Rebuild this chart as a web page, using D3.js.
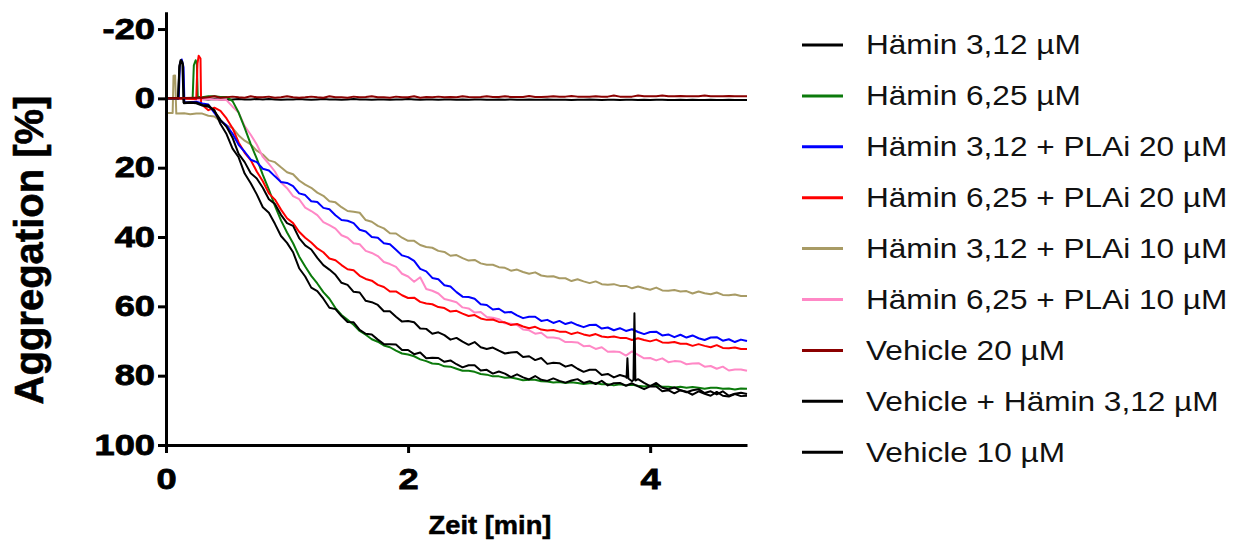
<!DOCTYPE html>
<html>
<head>
<meta charset="utf-8">
<script src="https://cdn.jsdelivr.net/npm/d3@7"></script>
<style>
  html, body { margin: 0; padding: 0; background: #fff; }
  svg { display: block; }
</style>
</head>
<body>
<svg id="chart" width="1249" height="545"></svg>
<script>
// ---- data ---------------------------------------------------------------
// Time grid (min) shared by all traces after the onset phase (0.30 ... 4.80)
const minutes = d3.range(91).map(i => +(0.30 + i * 0.05).toFixed(2));

const xTicks = [0, 2, 4];
const yTicks = [-20, 0, 20, 40, 60, 80, 100];

const seriesLabels = [
  "Hämin 3,12 µM",
  "Hämin 6,25 µM",
  "Hämin 3,12 + PLAi 20 µM",
  "Hämin 6,25 + PLAi 20 µM",
  "Hämin 3,12 + PLAi 10 µM",
  "Hämin 6,25 + PLAi 10 µM",
  "Vehicle 20 µM",
  "Vehicle + Hämin 3,12 µM",
  "Vehicle 10 µM"
];
const seriesColors = ["#000000", "#0b7a0b", "#0000ff", "#ff0000", "#a89b65",
                      "#ff88c6", "#8b0000", "#000000", "#000000"];

// Onset segments [min, %] including the injection artefacts
const onsetHamin312       = [[0, 0], [0.10, 0], [0.11, -9], [0.12, -11], [0.135, -10.5], [0.145, 1.2], [0.2, 1.1], [0.25, 1.2]];
const onsetHamin625       = [[0, 0], [0.22, 0], [0.23, -9.5], [0.245, -11], [0.255, -10], [0.262, -0.5], [0.28, -0.4]];
const onsetHamin312Plai20 = [[0, 0], [0.105, 0], [0.115, -10], [0.13, -11.2], [0.145, -9], [0.152, 1.2], [0.2, 1.1], [0.25, 1.0]];
const onsetHamin625Plai20 = [[0, 0], [0.25, 0.2], [0.26, -10], [0.27, -12.3], [0.285, -11.5], [0.29, 1.6]];
const onsetHamin312Plai10 = [[0, 4.2], [0.055, 4.2], [0.062, -6.5], [0.075, -6.6], [0.085, 4.4], [0.15, 4.3], [0.2, 4.6], [0.25, 4.4]];
const onsetHamin625Plai10 = [[0, 0], [0.2, 0.2], [0.25, 0.3]];
const onsetVehicle20      = [[0, 0], [0.15, -0.1], [0.25, -0.2]];
const onsetVehicleHamin   = [[0, 0], [0.10, 0], [0.112, -9.5], [0.125, -11], [0.14, -9.8], [0.148, 1.4], [0.2, 1.3], [0.25, 1.4]];
const onsetVehicle10      = [[0, 0], [0.15, 0.1], [0.25, 0.2]];

// Electrode artefact on the Hämin 3,12 µM trace
const artefactHamin312 = [[3.805, 80.6], [3.812, 75], [3.82, 80.8], [3.862, 81.2], [3.87, 62], [3.878, 81.4]];

// Aggregation (%) on the shared grid
const hamin312 = [
  1.9, 2.0, 3.7, 6.2, 8.2, 11.4, 16.0, 18.4, 21.6, 23.1,
  25.8, 29.1, 30.5, 33.6, 36.0, 36.8, 40.3, 42.4, 43.6, 46.0,
  48.1, 49.4, 50.9, 53.2, 53.8, 55.8, 56.0, 58.4, 58.8, 59.6,
  61.4, 61.4, 63.0, 64.4, 64.2, 64.6, 66.4, 66.5, 67.9, 67.5,
  68.3, 69.6, 69.1, 70.2, 71.1, 70.3, 71.8, 72.3, 71.9, 72.8,
  73.6, 73.3, 73.2, 74.6, 74.4, 75.5, 74.9, 76.6, 76.3, 76.4,
  77.4, 76.9, 78.0, 78.9, 78.3, 78.3, 79.8, 79.5, 80.5, 79.8,
  80.3, 81.6, 81.0, 82.1, 83.0, 82.1, 83.5, 83.9, 83.4, 84.2,
  84.8, 84.2, 83.9, 85.0, 84.5, 85.4, 84.5, 85.8, 85.2, 84.9,
  85.3
];
const hamin625 = [
  -0.3, -0.6, -0.6, -0.4, -0.4, 0.8, 4.1, 8.5, 13.2, 17.4,
  22.1, 26.3, 31.0, 35.2, 38.7, 41.8, 45.6, 48.5, 51.2, 53.4,
  55.9, 57.8, 60.5, 62.5, 63.9, 65.3, 67.1, 68.2, 69.5, 70.2,
  71.3, 71.8, 72.8, 73.6, 73.9, 74.4, 75.3, 75.8, 76.5, 76.6,
  77.3, 77.4, 78.0, 78.6, 78.6, 78.9, 79.5, 79.7, 80.2, 80.2,
  80.6, 80.5, 80.9, 81.3, 81.2, 81.2, 81.6, 81.7, 82.0, 81.8,
  82.1, 81.9, 82.1, 82.4, 82.2, 82.1, 82.5, 82.5, 82.8, 82.5,
  82.8, 82.6, 82.9, 83.1, 82.9, 82.9, 83.2, 83.2, 83.4, 83.2,
  83.5, 83.3, 83.5, 83.8, 83.5, 83.5, 83.8, 83.7, 84.0, 83.7,
  83.8
];
const hamin312Plai20 = [
  1.5, 1.8, 4.2, 6.4, 7.8, 10.2, 13.4, 15.4, 17.7, 18.4,
  20.3, 20.8, 22.5, 24.1, 24.4, 25.3, 27.4, 27.9, 29.7, 29.9,
  31.6, 32.0, 33.7, 35.1, 35.3, 36.0, 37.9, 38.4, 40.0, 40.2,
  41.8, 42.1, 43.7, 45.3, 45.8, 46.9, 49.2, 49.9, 51.8, 52.2,
  53.9, 54.3, 55.9, 57.2, 57.3, 57.8, 59.4, 59.6, 60.9, 60.7,
  61.8, 61.6, 62.6, 63.4, 63.0, 63.0, 64.2, 63.9, 64.8, 64.2,
  65.1, 64.6, 65.4, 66.0, 65.4, 65.3, 66.4, 66.1, 66.9, 66.3,
  67.1, 66.6, 67.4, 68.0, 67.4, 67.3, 68.4, 68.1, 68.9, 68.2,
  69.0, 68.4, 69.2, 69.7, 69.0, 68.9, 69.9, 69.5, 70.3, 69.6,
  70.0
];
const hamin625Plai20 = [
  1.9, 3.4, 2.7, 3.6, 5.8, 8.6, 12.7, 15.7, 17.8, 21.1,
  23.9, 27.4, 29.2, 32.1, 34.6, 36.0, 38.5, 40.2, 41.6, 43.3,
  44.4, 46.2, 46.7, 48.1, 49.3, 49.6, 51.2, 52.1, 52.6, 53.8,
  54.4, 55.7, 55.7, 56.8, 57.6, 57.5, 58.7, 59.2, 59.4, 60.2,
  60.5, 61.5, 61.3, 62.1, 62.8, 62.5, 63.5, 63.9, 63.8, 64.5,
  64.6, 65.4, 65.1, 65.8, 66.3, 65.9, 66.7, 67.0, 66.8, 67.3,
  67.3, 68.0, 67.5, 68.1, 68.5, 68.0, 68.7, 68.9, 68.7, 69.1,
  69.1, 69.7, 69.2, 69.7, 70.1, 69.6, 70.4, 70.5, 70.3, 70.8,
  70.8, 71.4, 70.9, 71.4, 71.8, 71.2, 72.0, 72.1, 71.9, 72.3,
  72.3
];
const hamin312Plai10 = [
  4.4, 5.0, 5.2, 6.6, 7.8, 8.6, 10.7, 12.2, 13.3, 15.1,
  16.2, 17.9, 18.4, 19.9, 21.3, 21.9, 23.7, 24.9, 25.8, 27.2,
  28.1, 29.7, 30.0, 31.4, 32.5, 32.7, 33.0, 35.1, 35.6, 36.8,
  37.5, 38.9, 39.0, 40.2, 41.1, 41.1, 42.3, 42.9, 43.1, 44.0,
  44.3, 45.4, 45.2, 46.1, 46.8, 46.6, 47.6, 48.0, 48.0, 48.7,
  48.9, 49.7, 49.4, 50.1, 50.6, 50.2, 51.1, 51.4, 51.3, 51.9,
  51.9, 52.7, 52.2, 52.8, 53.3, 52.8, 53.6, 53.8, 53.6, 54.1,
  54.1, 54.8, 54.3, 54.8, 55.2, 54.6, 55.4, 55.5, 55.3, 55.7,
  55.6, 56.3, 55.7, 56.2, 56.5, 56.0, 56.7, 56.8, 56.6, 57.0,
  57.0
];
const hamin625Plai10 = [
  0.3, 0.2, 0.3, 0.4, 0.5, 2.4, 4.1, 8.0, 10.5, 13.3,
  16.9, 18.9, 21.1, 24.3, 25.9, 28.2, 29.1, 31.5, 32.5, 33.7,
  35.7, 36.6, 37.6, 39.5, 40.2, 41.8, 42.1, 44.0, 44.6, 45.5,
  47.2, 47.8, 48.6, 50.6, 51.4, 52.9, 51.6, 55.0, 55.5, 56.3,
  57.9, 58.3, 58.8, 60.3, 60.6, 61.8, 61.6, 63.1, 63.3, 63.7,
  64.9, 65.0, 65.4, 66.7, 66.9, 67.9, 67.6, 69.0, 69.0, 69.3,
  70.3, 70.3, 70.4, 71.5, 71.4, 72.3, 71.8, 73.1, 73.0, 73.2,
  74.2, 73.0, 74.0, 75.0, 74.9, 75.6, 75.0, 76.1, 75.8, 75.9,
  76.7, 76.5, 76.4, 77.4, 77.2, 78.0, 77.4, 78.5, 78.2, 78.2,
  78.6
];
const vehicle20 = [
  -0.2, -0.3, -0.6, -0.2, -0.3, -0.5, -0.3, -0.2, -0.6, -0.3,
  -0.3, -0.5, -0.2, -0.3, -0.6, -0.3, -0.2, -0.3, -0.5, -0.3,
  -0.2, -0.6, -0.3, -0.3, -0.2, -0.5, -0.3, -0.4, -0.6, -0.3,
  -0.3, -0.2, -0.5, -0.3, -0.3, -0.6, -0.2, -0.4, -0.3, -0.5,
  -0.3, -0.4, -0.3, -0.6, -0.4, -0.3, -0.4, -0.6, -0.4, -0.4,
  -0.6, -0.4, -0.4, -0.4, -0.7, -0.4, -0.4, -0.5, -0.6, -0.5,
  -0.5, -0.7, -0.5, -0.5, -0.5, -0.6, -0.5, -0.5, -0.8, -0.5,
  -0.5, -0.5, -0.8, -0.6, -0.6, -0.6, -0.8, -0.6, -0.6, -0.7,
  -0.6, -0.6, -0.6, -0.8, -0.6, -0.6, -0.6, -0.7, -0.6, -0.6,
  -0.6
];
const vehicleHamin312 = [
  2.1, 2.4, 3.4, 7.4, 10.3, 14.5, 17.0, 21.7, 24.5, 27.7,
  31.4, 33.0, 36.2, 39.7, 41.7, 44.4, 49.0, 51.4, 54.6, 55.6,
  57.8, 60.4, 60.8, 62.8, 64.5, 64.6, 66.8, 67.9, 68.1, 69.6,
  70.9, 70.9, 71.0, 72.6, 72.6, 73.8, 73.3, 75.0, 74.8, 74.9,
  76.0, 75.6, 76.7, 77.6, 77.0, 77.0, 78.5, 78.3, 79.4, 78.8,
  79.4, 80.4, 79.6, 80.5, 81.1, 80.1, 81.2, 81.5, 80.8, 81.5,
  82.0, 81.4, 81.0, 82.1, 81.6, 82.4, 81.5, 82.8, 82.2, 82.1,
  82.9, 82.2, 83.1, 83.9, 83.1, 83.1, 84.5, 84.2, 85.1, 84.2,
  84.6, 85.5, 84.5, 85.2, 85.8, 84.7, 85.8, 86.0, 85.3, 85.9,
  85.8
];
const vehicle10 = [
  0.2, 0.3, 0.2, 0.3, 0.4, 0.3, 0.2, 0.3, 0.3, 0.2,
  0.3, 0.2, 0.3, 0.4, 0.3, 0.3, 0.2, 0.3, 0.4, 0.3,
  0.2, 0.3, 0.3, 0.4, 0.3, 0.2, 0.3, 0.3, 0.4, 0.3,
  0.3, 0.4, 0.3, 0.3, 0.2, 0.3, 0.4, 0.3, 0.3, 0.4,
  0.3, 0.3, 0.4, 0.3, 0.4, 0.3, 0.3, 0.4, 0.4, 0.3,
  0.4, 0.3, 0.4, 0.4, 0.3, 0.4, 0.4, 0.3, 0.4, 0.4,
  0.4, 0.5, 0.4, 0.4, 0.3, 0.4, 0.5, 0.4, 0.4, 0.5,
  0.4, 0.4, 0.5, 0.4, 0.5, 0.4, 0.4, 0.5, 0.5, 0.4,
  0.5, 0.4, 0.5, 0.5, 0.4, 0.5, 0.5, 0.4, 0.5, 0.5,
  0.5
];

// ---- assemble traces -------------------------------------------------------
const gridValues = [hamin312, hamin625, hamin312Plai20, hamin625Plai20, hamin312Plai10,
                    hamin625Plai10, vehicle20, vehicleHamin312, vehicle10];
const onsets = [onsetHamin312, onsetHamin625, onsetHamin312Plai20, onsetHamin625Plai20,
                onsetHamin312Plai10, onsetHamin625Plai10, onsetVehicle20, onsetVehicleHamin, onsetVehicle10];
const extras = [artefactHamin312, [], [], [], [], [], [], [], []];

const traces = seriesLabels.map((label, i) => {
  const pts = onsets[i].concat(minutes.map((t, j) => [t, gridValues[i][j]]), extras[i]);
  pts.sort((a, b) => a[0] - b[0]);
  return { label, color: seriesColors[i], points: pts };
});

// ---- drawing -----------------------------------------------------------------
const svg = d3.select("#chart");
const FONT = "'Liberation Sans', Arial, Helvetica, sans-serif";
const STRETCH = 1.17;   // the typeface is set slightly wide

const x = d3.scaleLinear().domain([0, 4.8]).range([166, 747]);
const y = d3.scaleLinear().domain([-25, 100]).range([11.7, 445]);

const line = d3.line().x(d => x(d[0])).y(d => y(d[1]));

// stacking order of the traces (later = on top)
const drawOrder = [8, 4, 5, 1, 3, 2, 7, 0, 6];
svg.append("g")
  .selectAll("path")
  .data(drawOrder.map(i => traces[i]))
  .join("path")
  .attr("d", d => line(d.points))
  .attr("fill", "none")
  .attr("stroke", d => d.color)
  .attr("stroke-width", 2)
  .attr("stroke-linejoin", "round");

// axes
const yAxis = svg.append("g")
  .attr("transform", `translate(${x(0)},0)`)
  .call(d3.axisLeft(y).tickValues(yTicks).tickFormat(d => String(d))
          .tickSize(8).tickSizeOuter(0).tickPadding(3));
const xAxis = svg.append("g")
  .attr("transform", `translate(0,${y(100)})`)
  .call(d3.axisBottom(x).tickValues(xTicks).tickFormat(d => String(d))
          .tickSize(8).tickSizeOuter(0).tickPadding(15));

[yAxis, xAxis].forEach(g => {
  g.select(".domain").attr("stroke", "#000").attr("stroke-width", 3);
  g.selectAll(".tick line").attr("stroke", "#000").attr("stroke-width", 3);
  g.selectAll(".tick text")
    .attr("fill", "#000")
    .attr("stroke", "#000")
    .attr("stroke-width", 0.8)
    .style("font-family", FONT)
    .style("font-weight", "bold")
    .style("font-size", "29px")
    .each(function () {
      // widen the glyphs around the text anchor
      const t = d3.select(this);
      const x0 = +t.attr("x") || 0;
      t.attr("x", 0).attr("transform", `translate(${x0},0) scale(1.25,1)`);
    });
});

// axis titles
svg.append("text")
  .attr("transform", `translate(43,250) rotate(-90)`)
  .attr("text-anchor", "middle")
  .attr("stroke", "#000")
  .attr("stroke-width", 0.6)
  .style("font-family", FONT)
  .style("font-weight", "bold")
  .style("font-size", "40px")
  .text("Aggregation [%]");

svg.append("text")
  .attr("transform", "translate(490,534) scale(1.05,1)")
  .attr("text-anchor", "middle")
  .attr("stroke", "#000")
  .attr("stroke-width", 0.5)
  .style("font-family", FONT)
  .style("font-weight", "bold")
  .style("font-size", "26px")
  .text("Zeit [min]");

// legend
const legend = svg.append("g")
  .selectAll("g")
  .data(traces)
  .join("g")
  .attr("transform", (d, i) => `translate(802,${45 + i * 50.9})`);
legend.append("line")
  .attr("x1", 0).attr("x2", 41)
  .attr("stroke", d => d.color)
  .attr("stroke-width", 3);
legend.append("text")
  .attr("transform", `translate(64,0) scale(${STRETCH},1)`)
  .attr("dy", "0.35em")
  .style("font-family", FONT)
  .style("font-size", "27px")
  .attr("fill", "#111")
  .text(d => d.label);
</script>
</body>
</html>
